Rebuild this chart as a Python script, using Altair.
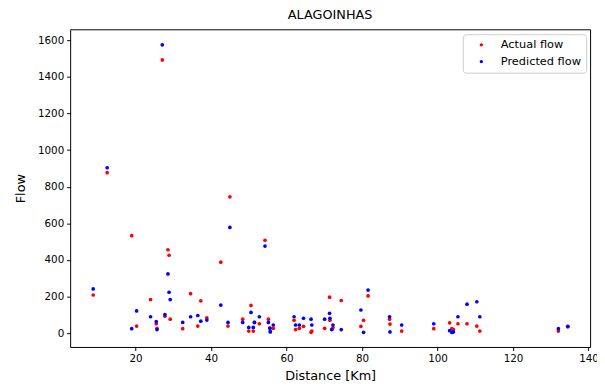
import altair as alt
import pandas as pd

distance = [8.8, 12.5, 19.0, 20.3, 24.0, 25.5, 25.7, 27.1, 27.8, 28.6, 28.9, 29.2,
            32.5, 34.6, 36.5, 37.3, 38.9, 42.6, 44.5, 45.0, 48.4, 50.0, 50.6, 51.2,
            51.5, 52.8, 54.3, 55.2, 55.6, 55.7, 56.5, 62.0, 62.4, 63.4, 64.5, 66.5,
            66.7, 70.1, 71.4, 71.5, 72.3, 72.0, 74.5, 79.7, 80.4, 81.6, 87.3, 87.4,
            90.5, 99.0, 103.2, 103.8, 104.2, 105.4, 107.8, 110.4, 111.2, 132.0, 134.5]
actual = [209, 877, 533, 39, 184, 52, 27, 1493, 93, 456, 426, 77,
          25, 216, 39, 177, 84, 388, 39, 745, 77, 12, 152, 12,
          59, 52, 508, 77, 30, 10, 27, 71, 20, 27, 38, 5,
          12, 27, 197, 71, 31, 22, 179, 38, 71, 204, 77, 50,
          12, 25, 57, 25, 20, 52, 52, 39, 12, 12, 35]
predicted = [242, 904, 25, 122, 90, 64, 20, 1575, 102, 324, 224, 184,
             59, 90, 97, 66, 72, 154, 59, 578, 59, 32, 114, 32,
             59, 90, 476, 59, 27, 7, 45, 90, 45, 45, 82, 77,
             45, 77, 109, 82, 45, 20, 20, 127, 5, 236, 90, 7,
             45, 52, 14, 4, 7, 90, 159, 172, 90, 25, 38]

series = ["Actual flow", "Predicted flow"]
colors = ["#ff0000", "#0000ff"]

rows = []
for d, a in zip(distance, actual):
    rows.append({"Distance": d, "Flow": a, "Series": series[0], "o": 0})
for d, p in zip(distance, predicted):
    rows.append({"Distance": d, "Flow": p, "Series": series[1], "o": 1})
df = pd.DataFrame(rows)

chart = alt.Chart(df).mark_circle(size=14, opacity=1).encode(
    x=alt.X("Distance:Q", title="Distance [Km]",
            scale=alt.Scale(domain=[2.7, 140.4], nice=False, zero=False),
            axis=alt.Axis(values=[20, 40, 60, 80, 100, 120, 140], grid=False, format="d",
                          domain=False, tickSize=3.5, tickColor="black",
                          labelFontSize=10.5, labelColor="black", labelPadding=3,
                          titleFontSize=13, titleFontWeight="normal", titleColor="black",
                          titlePadding=6, labelFont="DejaVu Sans", titleFont="DejaVu Sans")),
    y=alt.Y("Flow:Q", title="Flow",
            scale=alt.Scale(domain=[-75, 1660], nice=False, zero=False),
            axis=alt.Axis(values=[0, 200, 400, 600, 800, 1000, 1200, 1400, 1600], grid=False,
                          format="d",
                          domain=False, tickSize=3.5, tickColor="black",
                          labelFontSize=10.5, labelColor="black", labelPadding=3,
                          titleFontSize=13, titleFontWeight="normal", titleColor="black",
                          titlePadding=10, labelFont="DejaVu Sans", titleFont="DejaVu Sans")),
    color=alt.Color("Series:N", scale=alt.Scale(domain=series, range=colors),
                    legend=alt.Legend(title=None, orient="none", legendX=398, legendY=5,
                                      labelFontSize=11.5, labelFont="DejaVu Sans", labelColor="black",
                                      symbolSize=12, symbolType="circle", symbolOpacity=1,
                                      strokeColor="#cccccc", fillColor="white", cornerRadius=3,
                                      padding=5, rowPadding=4, symbolOffset=8, labelOffset=14)),
    order=alt.Order("o:Q"),
).properties(
    width=527, height=322,
    title=alt.TitleParams("ALAGOINHAS", fontSize=13, fontWeight="normal", font="DejaVu Sans",
                          color="black", offset=7),
    autosize=alt.AutoSizeParams(type="none"),
    padding={"left": 63, "top": 19, "right": 7, "bottom": 40},
).configure_view(stroke="black", strokeWidth=1)

chart.save("out.html", embed_options={"renderer": "svg", "actions": False})
